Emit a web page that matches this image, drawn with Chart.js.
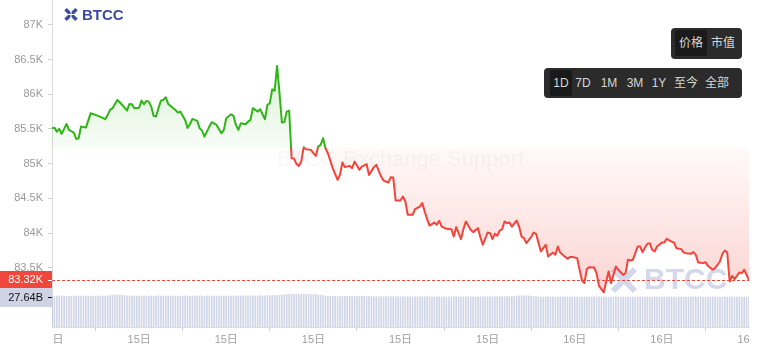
<!DOCTYPE html>
<html><head><meta charset="utf-8">
<script src="https://cdn.jsdelivr.net/npm/chart.js@4"></script>
<style>
html,body{margin:0;padding:0;background:#fff;}
#wrap{position:relative;width:763px;height:355px;overflow:hidden;font-family:"Liberation Sans","Noto Sans CJK SC",Arial,sans-serif;}
#c{position:absolute;left:0;top:0;}
.logo{position:absolute;left:64px;top:6px;height:16px;display:flex;align-items:center;color:#3b4b9f;font-weight:bold;font-size:15px;letter-spacing:0px;}
.logo svg{margin-right:4px;}
.grp{position:absolute;background:#2b2b2b;border-radius:4px;}
.btn{position:absolute;top:2px;height:26px;line-height:26px;text-align:center;color:#d6d6d6;font-size:12px;border-radius:3px;white-space:nowrap;}
.btn.on{background:#1a1a1a;}
</style></head>
<body>
<div id="wrap">
  <canvas id="c" width="763" height="355"></canvas>
  <div class="logo">
    <svg width="14" height="13" viewBox="0 0 14 13">
      <path d="M1.5 1.2 L12.5 11.8 M12.5 1.2 L1.5 11.8" stroke="#3b4b9f" stroke-width="3.4" fill="none"/>
      <path d="M7 0 L7 13 M0 6.5 L14 6.5" stroke="#fff" stroke-width="1.1"/>
    </svg>
    <span>BTCC</span>
  </div>
  <div class="grp" style="left:671px;top:28px;width:71px;height:31px;">
    <span class="btn on" style="left:4px;width:32px;">价格</span>
    <span class="btn" style="left:36px;width:32px;">市值</span>
  </div>
  <div class="grp" style="left:544px;top:68px;width:198px;height:30px;">
    <span class="btn on" style="left:6px;width:22px;">1D</span>
    <span class="btn" style="left:28px;width:22px;">7D</span>
    <span class="btn" style="left:53px;width:24px;">1M</span>
    <span class="btn" style="left:79px;width:24px;">3M</span>
    <span class="btn" style="left:104px;width:22px;">1Y</span>
    <span class="btn" style="left:128px;width:28px;">至今</span>
    <span class="btn" style="left:159px;width:28px;">全部</span>
  </div>
</div>
<script>
// minutes since the first tick (15日 06:00)
const times = [0,5,10,15,20,30,35,45,50,55,60,70,80,90,100,110,115,120,125,135,140,150,155,160,165,170,180,185,190,195,200,205,210,215,220,225,230,235,240,245,255,260,265,275,280,285,290,300,305,310,315,325,330,340,350,355,360,370,375,380,385,390,400,405,
410,415,425,430,440,445,450,455,460,465,470,475,480,485,490,495,500,505,510,515,520,525,535,540,545,550,555,560,565,570,580,590,595,600,605,615,620,625,635,640,650,655,665,670,680,685,695,700,705,710,720,725,730,735,745,750,760,765,770,775,780,790,795,800,
805,815,825,830,835,845,850,855,865,870,880,885,890,900,905,910,915,920,925,930,935,940,945,950,960,965,970,975,980,990,995,1000,1010,1015,1020,1025,1035,1040,1045,1050,1055,1065,1070,1075,1085,1090,1095,1100,1105,1110,1120,1125,1130,1140,
1145,1150,1155,1160,1165,1170,1180,1185,1190,1195,1200,1205,1210,1215,1220,1230,1235,1240,1245,1250,1260,1265,1270,1280,1285,1290,1300,1305,1310,1320,1325,1330,1335,1345,1350,1355,1365,1370,1380,1385,1390,1395,1400,1405,1410,1415,1420,1425,1430,1435,1440];

const prices = [85511,85520,85462,85501,85429,85573,85487,85448,85357,85367,85535,85520,85728,85703,85674,85641,85703,85775,85800,85919,85886,85808,85765,85862,85857,85800,85808,85909,85857,85905,85895,85823,85689,85679,85800,85909,85919,85958,85862,85833,85775,85736,85751,85631,85516,85569,85645,85617,85511,85477,85390,85535,85598,85559,85439,85487,85656,85713,85689,85559,85487,85583,85569,85607,
85631,85800,85751,85785,85641,85847,85872,86073,86053,86409,86016,85592,85602,85751,85765,85079,85074,84997,84968,85030,85238,85209,85199,85151,85112,85246,85271,85367,85223,85151,84935,84766,84838,85016,84950,84968,84935,85030,84911,84958,84993,84838,84950,84983,84814,84756,84728,84805,84800,84468,84468,84526,84454,84262,84262,84344,84382,84431,84310,84200,84108,84151,84118,84176,
84093,84060,84056,83949,84085,83912,84056,84166,84046,84013,84070,83941,83830,84007,83998,83912,83988,83960,84036,84056,84166,84142,84151,84093,84180,84093,83949,83926,83854,83941,84007,83988,83733,83782,83830,83661,83719,83686,83805,83719,83686,83628,83653,83653,83638,83470,83315,83278,83480,83508,83503,83422,83239,83145,
83301,83445,83278,83397,83517,83470,83397,83422,83614,83604,83614,83710,83805,83805,83725,83844,83854,83758,83733,83805,83863,83863,83916,83877,83863,83782,83768,83719,83710,83700,83725,83686,83575,83566,83580,83527,83470,83494,83589,83700,83748,83719,83301,83383,83336,83383,83431,83422,83470,83397,83320];

// 5-minute volume (B), one bar per 5 minutes
const volumes = [
28.3,28.2,28.4,28.3,28.5,28.3,28.2,28.4,28.2,28.3,
28.4,28.3,28.3,28.5,28.2,28.4,28.3,28.2,28.4,28.5,
28.3,28.5,28.4,28.6,28.8,29.0,29.3,29.5,29.4,29.1,
28.8,28.5,28.4,28.3,28.5,28.2,28.4,28.3,28.5,28.4,
28.2,28.5,28.3,28.4,28.6,28.3,28.2,28.5,28.4,28.3,
28.5,28.4,28.2,28.5,28.3,28.6,28.4,28.2,28.5,28.4,
28.3,28.5,28.4,28.2,28.5,28.6,28.4,28.3,28.5,28.4,
28.2,28.5,28.3,28.6,28.4,28.5,28.3,28.5,28.6,28.4,
28.5,28.3,28.5,28.7,28.4,28.6,28.8,28.5,28.7,28.9,
28.6,28.8,29.0,28.9,29.2,29.4,29.6,29.8,30.0,30.1,
29.9,30.2,30.0,30.1,29.9,30.1,29.9,29.8,30.0,29.7,
29.5,29.1,28.8,28.4,28.2,28.3,28.1,28.2,28.0,28.2,
28.1,27.9,28.2,28.0,28.1,27.8,28.1,27.9,28.2,28.0,
27.8,28.1,27.9,27.7,28.0,27.8,27.9,27.6,27.9,27.8,
27.7,27.9,27.6,27.8,27.7,27.9,27.6,27.8,27.7,27.5,
27.8,27.6,27.7,27.9,27.6,27.8,27.7,27.5,27.8,27.6,
27.7,27.5,27.8,27.6,27.7,27.9,27.6,27.8,27.7,27.5,
27.8,27.6,27.9,27.7,27.5,27.8,27.6,27.7,27.9,27.6,
27.8,27.7,27.9,27.6,27.8,28.0,27.7,27.9,28.1,27.9,
28.2,28.0,28.3,28.5,28.6,28.5,28.7,28.5,28.3,28.0,
27.8,27.6,27.7,27.5,27.8,27.6,27.4,27.7,27.5,27.6,
27.4,27.7,27.5,27.6,27.4,27.7,27.5,27.3,27.6,27.4,
27.7,27.5,27.6,27.4,27.7,27.5,27.8,27.6,27.4,27.7,
27.5,27.6,27.4,27.7,27.5,27.3,27.6,27.4,27.7,27.5,
27.6,27.4,27.7,27.5,27.6,27.4,27.7,27.5,27.3,27.6,
27.4,27.7,27.5,27.6,27.4,27.7,27.5,27.6,27.4,27.7,
27.5,27.3,27.6,27.4,27.7,27.5,27.6,27.4,27.7,27.5,
27.6,27.4,27.5,27.7,27.4,27.6,27.5,27.3,27.6,27.4,
27.7,27.5,27.6,27.4,27.7,27.5,27.6,27.4,27.64];
const volumeStep = 5;

const baseline = 85225;       // opening price
const xTickValues = [0,180,360,540,720,900,1080,1260,1440];
const xTickLabels = ['15日','15日','15日','15日','15日','15日','16日','16日','16日'];
const yTickValues = [83500,84000,84500,85000,85500,86000,86500,87000];

const FONT = '"Liberation Sans","Noto Sans CJK SC",Arial,sans-serif';
Chart.defaults.font.family = FONT;

const GREEN = '#2eb516', RED = '#f2443a';

function split(c, fn) {
  const ch = c.chart, a = ch.chartArea;
  if (!a || !ch.scales.y) return null;
  const yb = ch.scales.y.getPixelForValue(baseline);
  const g = ch.ctx.createLinearGradient(0, a.top, 0, a.bottom);
  const s = Math.min(1, Math.max(0, (yb - a.top) / (a.bottom - a.top)));
  fn(g, s);
  return g;
}

const extras = {
  id: 'extras',
  beforeDatasetsDraw(chart) {
    const {ctx, chartArea: a} = chart;
    ctx.save();
    ctx.font = '22px ' + FONT;
    ctx.fillStyle = 'rgba(170,170,170,0.09)';
    ctx.textAlign = 'center'; ctx.textBaseline = 'middle';
    ctx.fillText('BTCC Exchange Support', (a.left + a.right) / 2, a.top + (a.bottom - a.top) * 0.49);
    // corner watermark
    const wc = 'rgba(110,125,185,0.30)';
    const ix = a.right - 136, iy = a.bottom - 58;
    ctx.strokeStyle = wc; ctx.lineWidth = 6;
    ctx.beginPath();
    ctx.moveTo(ix, iy); ctx.lineTo(ix + 22, iy + 22);
    ctx.moveTo(ix + 22, iy); ctx.lineTo(ix, iy + 22);
    ctx.stroke();
    ctx.font = 'bold 30px ' + FONT;
    ctx.fillStyle = wc; ctx.textAlign = 'left';
    ctx.fillText('BTCC', a.right - 105, iy + 12);
    ctx.restore();
  },
  afterDraw(chart) {
    const {ctx, chartArea: a, scales} = chart;
    const lastP = prices[prices.length - 1];
    const lastV = volumes[volumes.length - 1];
    const py = Math.round(scales.y.getPixelForValue(lastP));
    const vy = Math.round(scales.yv.getPixelForValue(lastV));
    ctx.save();
    ctx.strokeStyle = '#f0463c'; ctx.lineWidth = 1; ctx.setLineDash([3, 2]);
    ctx.beginPath(); ctx.moveTo(a.left, py + 0.5); ctx.lineTo(a.right, py + 0.5); ctx.stroke();
    ctx.setLineDash([]);
    ctx.font = '11px ' + FONT; ctx.textAlign = 'right'; ctx.textBaseline = 'middle';
    // volume tag
    ctx.fillStyle = '#cfd3e4'; ctx.fillRect(0, vy - 9, a.left, 19);
    ctx.fillStyle = '#111'; ctx.fillRect(a.left - 4, vy, 4, 1);
    ctx.fillText(lastV.toFixed(2) + 'B', a.left - 9, vy + 0.5);
    // price tag
    ctx.fillStyle = '#f0473c'; ctx.fillRect(0, py - 9, a.left, 17);
    ctx.fillStyle = '#fff'; ctx.fillRect(a.left - 4, py, 4, 1);
    ctx.fillText((lastP / 1000).toFixed(2) + 'K', a.left - 9, py);
    // x labels clipped to the plot width
    ctx.beginPath(); ctx.rect(a.left, a.bottom, a.right - a.left + 1, chart.height - a.bottom); ctx.clip();
    ctx.fillStyle = '#a0a0a0'; ctx.textAlign = 'center';
    xTickValues.forEach((v, i) => ctx.fillText(xTickLabels[i], scales.x.getPixelForValue(v), a.bottom + 13));
    ctx.restore();
  }
};

new Chart(document.getElementById('c'), {
  type: 'line',
  data: {
    datasets: [{
      type: 'line',
      data: times.map((t, i) => ({x: t, y: prices[i]})),
      xAxisID: 'x', yAxisID: 'y',
      borderWidth: 2, pointRadius: 0, tension: 0, order: 1,
      borderJoinStyle: 'round',
      fill: {value: baseline},
      borderColor: c => split(c, (g, s) => {
        g.addColorStop(0, GREEN); g.addColorStop(s, GREEN);
        g.addColorStop(s, RED); g.addColorStop(1, RED);
      }) || GREEN,
      backgroundColor: c => split(c, (g, s) => {
        g.addColorStop(0, 'rgba(46,181,22,0.30)'); g.addColorStop(s, 'rgba(46,181,22,0.03)');
        g.addColorStop(s, 'rgba(242,68,58,0.03)'); g.addColorStop(1, 'rgba(242,68,58,0.27)');
      }) || 'rgba(0,0,0,0)'
    }, {
      type: 'bar',
      data: volumes.map((v, i) => ({x: i * volumeStep, y: v})),
      xAxisID: 'x', yAxisID: 'yv',
      backgroundColor: 'rgba(178,186,214,0.6)', barThickness: 1, order: 2
    }]
  },
  options: {
    responsive: false, animation: false, events: [],
    layout: {padding: {left: 0, right: 14, top: 0, bottom: 0}},
    plugins: {legend: {display: false}, tooltip: {enabled: false}},
    scales: {
      x: {
        type: 'linear', min: 0, max: 1440, offset: false,
        afterBuildTicks: s => { s.ticks = xTickValues.map(v => ({value: v})); },
        ticks: {display: false},
        grid: {display: true, drawOnChartArea: false, drawTicks: true, tickLength: 4, color: '#cfcfcf'},
        border: {display: true, color: '#dcdcdc'},
        afterFit: s => { s.height = 28; s.paddingLeft = 0; s.paddingRight = 0; }
      },
      y: {
        type: 'linear', position: 'left', min: 82645, max: 87360,
        afterBuildTicks: s => { s.ticks = yTickValues.map(v => ({value: v})); },
        ticks: {color: '#999', font: {size: 11}, padding: 5, callback: v => (v / 1000) + 'K'},
        grid: {drawOnChartArea: false, drawTicks: true, tickLength: 4, color: '#cfcfcf'},
        border: {display: true, color: '#dcdcdc'},
        afterFit: s => { s.width = 52; s.paddingTop = 0; s.paddingBottom = 0; }
      },
      yv: {type: 'linear', display: false, min: 0, max: 300}
    }
  },
  plugins: [extras]
});
</script>
</body></html>
